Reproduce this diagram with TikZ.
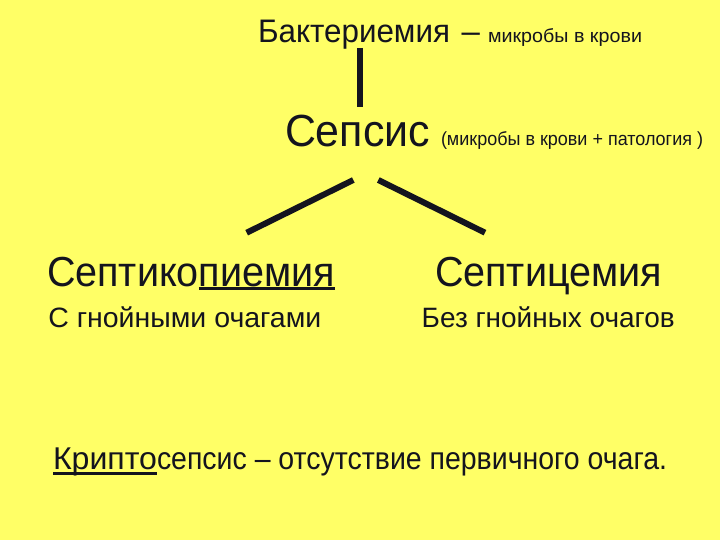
\documentclass[tikz,border=0pt]{standalone}
\usepackage{fontspec}
\usepackage{graphicx}
\setmainfont{Liberation Sans}
\definecolor{bgyellow}{RGB}{255,255,102}
\definecolor{ink}{RGB}{20,20,30}
\newsavebox\fitbx
\newlength\ulw
\newcommand\fittext[3]{%
  \sbox\fitbx{\fontsize{#2}{#2}\selectfont #3}%
  \pgfmathsetmacro\fitsx{#1/\the\wd\fitbx}%
  \scalebox{\fitsx}[1]{\usebox\fitbx}}
\newcommand\myul[3]{\settowidth\ulw{#3}\rlap{\rule[#1]{\ulw}{#2}}#3}
\tikzset{
  txt/.style={anchor=base west, inner sep=0pt, outer sep=0pt, text=ink},
  bar/.style={line width=6pt, draw=ink, line cap=butt}
}
\begin{document}
\begin{tikzpicture}[x=1pt,y=1pt]
\useasboundingbox (0,0) rectangle (720,-540);
\fill[bgyellow] (0,0) rectangle (720,-540);
% texts
\node[txt] (bakt) at (258,-42.7) {\fittext{192}{32.6}{Бактериемия}};
\node[txt] (dash) at (461.7,-42.7) {\fittext{18.3}{32.6}{–}};
\node[txt] (micr) at (488,-42.7) {\fittext{154}{19}{микробы в крови}};
\node[txt] (seps) at (285,-146.5) {\fittext{145}{45}{Сепсис}};
\node[txt] (par) at (441,-146) {\fittext{262}{19}{(микробы в крови + патология )}};
\node[txt] (sk) at (47,-286.7) {\fittext{288}{42}{Септико\myul{-3.3pt}{2.7pt}{пиемия}}};
\node[txt] (sc) at (435,-286.7) {\fittext{227}{42}{Септицемия}};
\node[txt] (sk2) at (48.3,-327.3) {\fittext{273}{28}{С гнойными очагами}};
\node[txt] (sc2) at (421.7,-327.3) {\fittext{253}{28}{Без гнойных очагов}};
\node[txt] (krip) at (53,-469.3) {\fittext{104}{31.5}{\myul{-5.2pt}{3pt}{Крипто}}};
\node[txt] (kdef) at (157,-469.3) {\fittext{510}{31.5}{сепсис – отсутствие первичного очага.}};
% connector end points
\coordinate (vtop) at (359.7,-48);
\coordinate (vbot) at (359.7,-106.7);
\coordinate (ltop) at (353.3,-180);
\coordinate (lbot) at (246.7,-232.7);
\coordinate (rtop) at (378.3,-180);
\coordinate (rbot) at (485,-232.7);
\draw[bar] (vtop) -- (vbot);
\draw[bar] (ltop) -- (lbot);
\draw[bar] (rtop) -- (rbot);
\end{tikzpicture}
\end{document}
